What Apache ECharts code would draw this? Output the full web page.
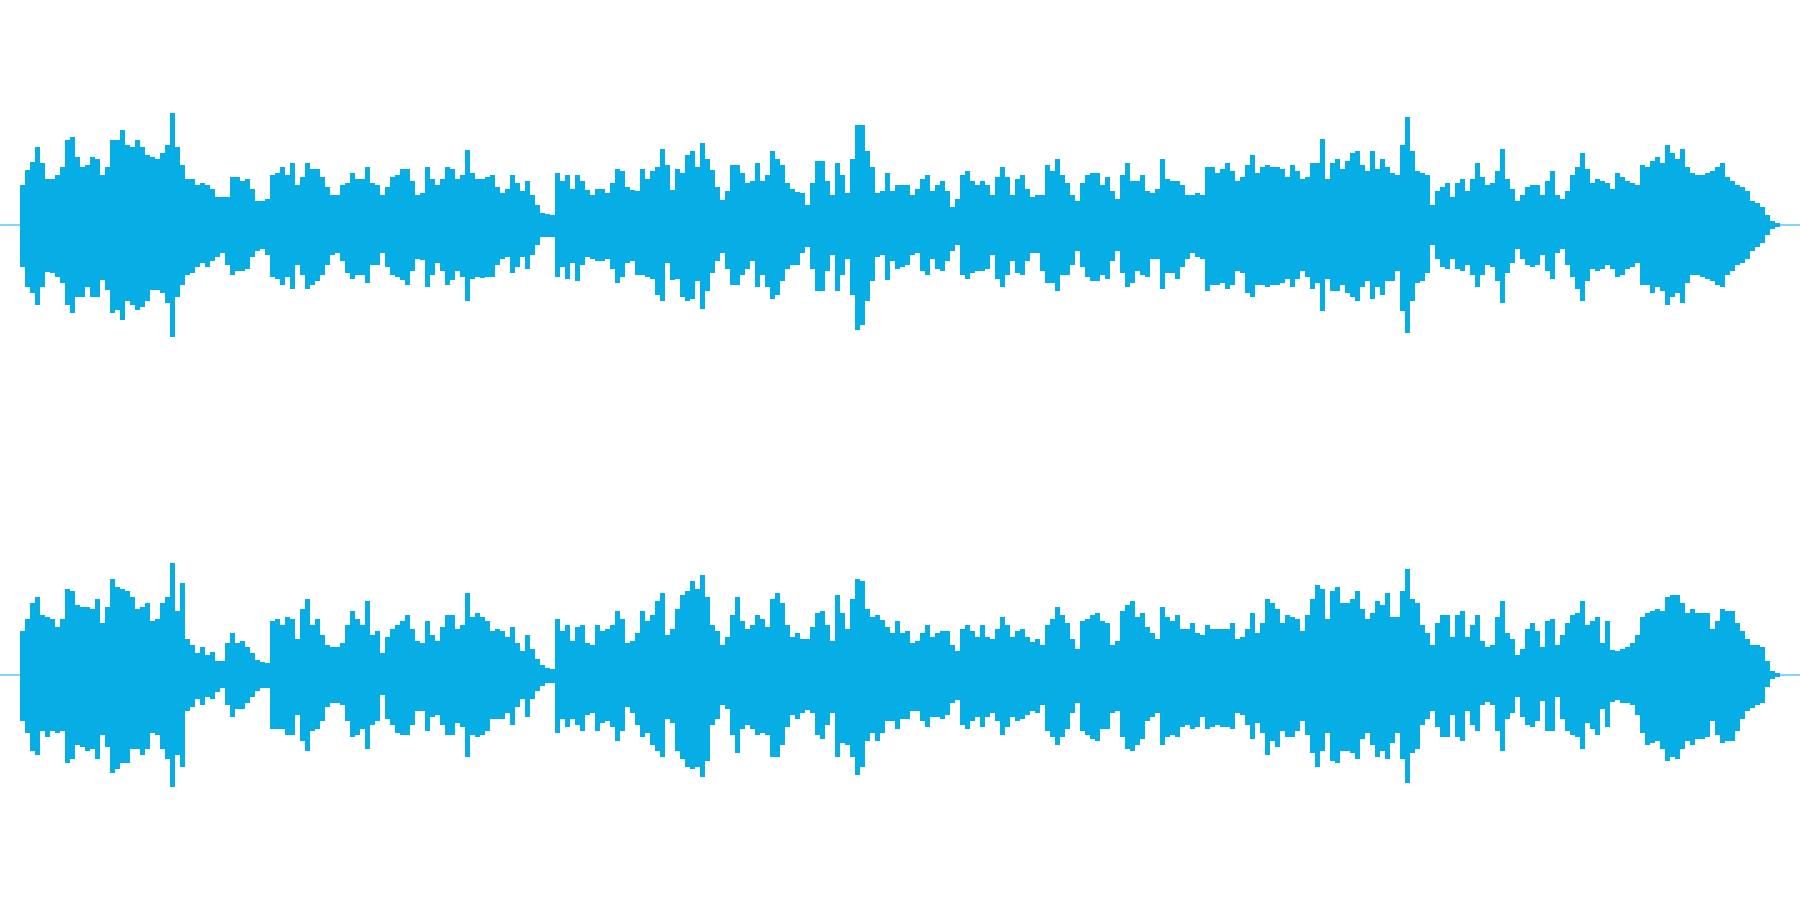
<!DOCTYPE html>
<html><head><meta charset="utf-8">
<style>html,body{margin:0;padding:0;background:#fff}#c{width:1800px;height:900px}</style>
<script src="https://cdn.jsdelivr.net/npm/echarts@6/dist/echarts.min.js"></script>
</head><body><div id="c"></div>
<script>
// Peak amplitude per time bin (full scale = 225)
const ch1Upper=[
.5,.5,.5,.5,40,55,63,78,62,46,46,50,58,85,88,68,58,60,68,66,
50,58,85,85,95,80,78,85,78,70,68,66,72,80,112,78,60,46,46,40,
42,40,36,28,28,28,48,48,44,46,36,24,24,26,50,52,58,50,62,40,
48,62,56,56,48,38,30,30,40,42,52,46,46,58,42,40,30,38,48,50,
56,56,44,30,32,58,46,40,46,58,56,46,50,75,52,46,46,48,50,38,
32,36,50,42,34,44,30,20,12,11,10,52,44,50,36,50,44,35,30,36,
36,32,42,56,54,38,35,34,56,46,54,58,76,60,35,56,52,70,74,58,
82,66,55,38,25,34,60,60,52,42,44,62,44,50,74,66,60,42,36,33,
32,20,42,64,64,44,30,62,50,32,66,100,100,74,58,32,34,52,34,40,
40,40,30,36,46,50,34,40,44,34,18,26,50,54,44,40,44,40,30,48,
58,48,30,46,50,36,28,30,30,60,54,66,50,42,30,24,42,50,52,52,
40,48,34,26,50,62,44,44,50,34,32,36,66,46,44,44,40,30,30,32,
30,58,58,52,56,62,54,44,48,60,70,52,58,60,58,58,56,48,60,54,
46,48,62,62,86,46,62,66,56,64,72,74,60,54,74,56,66,58,52,50,
80,108,74,54,52,50,20,34,38,42,28,42,46,34,46,62,48,40,42,54,
76,46,36,24,30,38,40,40,30,44,54,30,26,34,50,58,72,56,42,46,
44,42,36,52,48,44,42,40,60,58,64,68,62,80,72,66,76,58,52,50,
50,52,54,58,62,48,44,40,38,34,24,22,18,10,4,2,.5,.5,.5,.5];
const ch1Lower=[
.5,.5,.5,.5,42,62,68,80,62,47,48,52,58,80,88,72,72,62,72,72,
55,65,88,85,95,76,80,85,82,76,65,65,68,78,112,72,60,50,48,42,
38,42,36,32,28,40,50,46,46,44,32,26,24,30,52,54,60,52,64,40,
50,64,60,56,50,40,30,28,36,48,54,50,50,58,40,40,28,42,50,52,
55,60,46,34,35,62,50,38,46,60,55,46,52,76,54,52,53,52,52,40,
34,32,48,42,32,44,30,20,12,12,12,52,42,54,38,56,40,32,34,36,
36,34,44,58,52,38,36,50,50,52,54,70,76,38,55,54,72,76,74,56,
84,66,48,36,28,44,60,60,50,44,36,62,50,62,74,70,56,44,40,40,
28,22,44,66,66,46,30,66,50,34,70,105,100,76,56,32,30,55,36,44,
42,40,30,28,46,50,34,44,46,36,26,20,50,54,48,46,46,44,30,54,
62,50,36,48,50,36,28,28,46,58,58,66,50,50,40,26,42,52,56,56,
50,54,36,26,48,62,58,46,50,52,34,34,64,48,48,54,42,34,28,32,
34,66,60,60,58,64,60,46,48,68,72,60,60,62,60,60,58,54,62,54,
46,52,64,58,86,54,66,66,60,68,72,76,62,56,74,62,70,56,56,46,
86,108,76,58,56,48,20,34,42,44,34,44,46,40,50,62,50,40,42,56,
78,48,38,24,34,40,42,40,30,46,54,28,24,40,52,64,76,56,44,46,
44,40,44,52,50,44,42,38,60,60,68,62,66,80,72,68,78,58,50,50,
52,54,56,60,62,50,46,40,38,34,26,22,18,10,4,2,.5,.5,.5,.5];
const ch2Upper=[
.5,.5,.5,.5,44,56,72,78,60,58,56,48,56,86,84,70,68,68,66,76,
52,68,96,88,86,84,78,66,68,72,54,56,72,78,112,64,92,36,30,22,
28,20,23,14,14,32,42,32,34,28,22,15,13,12,54,56,50,58,56,36,
66,76,50,56,40,30,28,28,32,50,64,56,50,74,40,44,22,38,46,50,
54,60,46,34,32,54,40,34,48,60,60,46,50,82,58,62,58,54,44,46,
44,38,48,32,24,40,26,16,10,7,6,56,44,50,34,48,50,32,30,50,
44,46,50,64,56,32,34,42,64,54,60,74,82,40,46,66,80,84,94,86,
100,78,50,44,30,38,60,78,54,46,50,60,56,48,76,82,72,50,38,42,
36,36,48,62,64,50,34,80,62,46,76,96,94,66,58,60,55,48,42,54,
42,44,32,34,42,50,38,42,44,44,30,24,46,50,44,38,50,38,36,46,
58,50,38,44,46,38,33,36,30,50,56,68,60,52,36,26,54,56,60,62,
54,52,30,34,64,70,74,58,62,48,42,36,68,58,54,60,46,46,52,42,
40,50,46,46,46,46,52,36,38,46,62,42,52,76,72,66,52,60,58,56,
44,60,76,90,86,56,84,88,72,72,76,84,66,56,62,74,70,82,58,58,
84,106,76,72,50,42,30,52,60,60,38,60,64,38,50,60,34,28,30,58,
74,42,36,20,26,46,52,44,28,54,56,30,40,52,60,62,74,50,54,58,
32,54,25,24,26,28,32,40,58,62,64,66,64,78,80,80,72,62,66,62,
62,62,46,54,66,64,64,52,44,36,30,30,28,14,4,2,.5,.5,.5,.5];
const ch2Lower=[
.5,.5,.5,.5,46,58,76,80,56,62,56,58,56,88,84,70,72,76,74,84,
60,72,98,94,88,88,74,74,80,74,58,60,74,84,112,80,92,36,32,24,
30,22,24,17,13,30,42,34,34,28,22,16,13,13,54,54,54,60,60,40,
66,76,56,54,46,32,28,28,30,46,62,60,54,74,50,46,20,44,50,58,
60,60,50,36,36,56,42,40,50,60,60,48,52,82,60,62,60,56,44,44,
44,38,50,32,24,42,24,16,11,8,8,58,44,52,44,50,56,40,38,56,
48,46,52,66,56,32,38,50,62,58,70,76,82,44,48,76,84,92,94,92,
102,86,50,44,30,34,60,78,54,50,54,60,58,60,82,82,70,52,40,44,
38,35,38,60,64,50,38,82,68,70,82,100,92,66,58,66,58,46,46,54,
44,44,36,36,46,52,42,42,44,40,28,25,50,54,46,42,52,42,38,46,
60,52,42,46,44,40,36,38,30,56,62,70,62,54,38,28,56,60,64,66,
54,54,38,36,62,74,76,70,64,46,42,38,70,62,60,62,52,50,54,52,
42,54,52,50,52,52,54,38,40,50,64,48,58,80,66,72,56,62,62,56,
46,60,78,92,76,58,86,88,76,76,78,84,64,58,70,82,76,84,68,58,
84,108,78,74,50,44,36,52,62,62,40,62,66,36,50,56,30,27,30,56,
76,44,38,22,42,50,52,46,26,56,56,22,44,56,60,62,74,48,54,60,
34,52,27,25,28,28,30,40,58,70,68,66,74,86,82,84,74,66,70,64,
64,62,46,60,68,66,66,56,44,36,33,30,28,12,4,2,.5,.5,.5,.5];

const bins = ch1Upper.map((_, i) => i);
const waveColor = '#07aee6';
const neg = a => a.map(v => -v);
const grids = [{left:0,right:0,top:0,height:450},{left:0,right:0,top:450,height:450}];
const xAxes = grids.map((_, g) => ({type:'category',gridIndex:g,data:bins,show:false,boundaryGap:true}));
const yAxes = grids.map((_, g) => ({type:'value',gridIndex:g,min:-225,max:225,show:false}));
const bar = (g, d) => ({type:'bar',xAxisIndex:g,yAxisIndex:g,data:d,barWidth:'100%',barGap:'-100%',
  itemStyle:{color:waveColor},silent:true,animation:false});
const chart = echarts.init(document.getElementById('c'), null, {renderer:'canvas'});
chart.setOption({
  animation:false, backgroundColor:'#ffffff',
  grid:grids, xAxis:xAxes, yAxis:yAxes,
  series:[bar(0,ch1Upper),bar(0,neg(ch1Lower)),bar(1,ch2Upper),bar(1,neg(ch2Lower))]
});
</script></body></html>
